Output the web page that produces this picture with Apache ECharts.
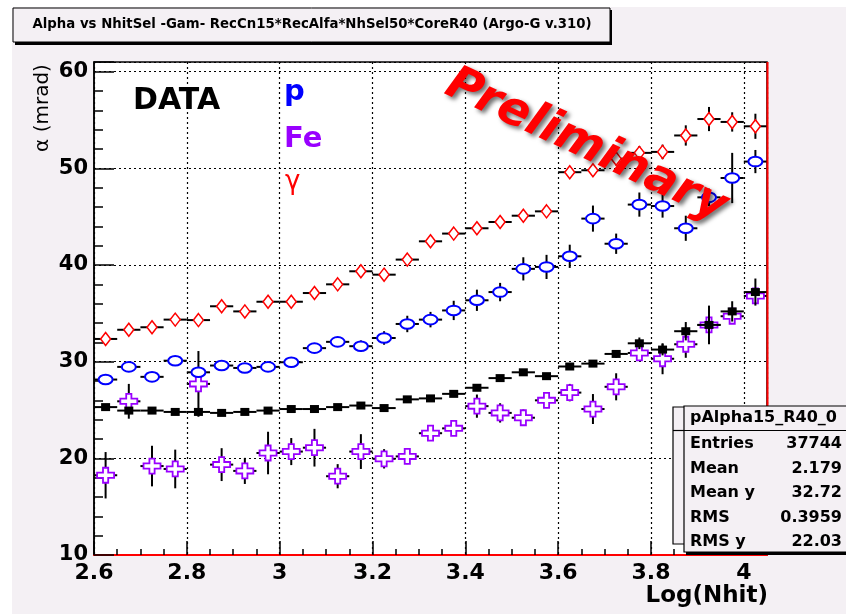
<!DOCTYPE html>
<html><head><meta charset="utf-8">
<script src="https://cdn.jsdelivr.net/npm/echarts@6/dist/echarts.min.js"></script>
<style>html,body{margin:0;padding:0;background:#fff}#c{width:846px;height:614px}</style>
</head><body><div id="c"></div><script>
// bin centres of Log(Nhit)
const xBins = [2.625, 2.675, 2.725, 2.775, 2.825, 2.875, 2.925, 2.975, 3.025, 3.075,
  3.125, 3.175, 3.225, 3.275, 3.325, 3.375, 3.425, 3.475, 3.525, 3.575,
  3.625, 3.675, 3.725, 3.775, 3.825, 3.875, 3.925, 3.975, 4.025];
const binHalfWidth = 0.025;
// gamma (red diamonds)
const gammaVals = [32.35, 33.3, 33.56, 34.35, 34.3, 35.73, 35.2, 36.2, 36.2, 37.1,
  38.0, 39.35, 39.0, 40.56, 42.45, 43.25, 43.8, 44.45, 45.1, 45.55,
  49.6, 49.8, 51.0, 51.6, 51.7, 53.4, 55.1, 54.8, 54.35];
const gammaErr = [0.3, 0.3, 0.3, 0.3, 0.3, 0.3, 0.3, 0.3, 0.3, 0.3,
  0.3, 0.3, 0.3, 0.35, 0.35, 0.35, 0.4, 0.4, 0.4, 0.45,
  0.5, 0.6, 0.7, 0.7, 0.75, 1.05, 1.25, 1.0, 1.3];
// proton (blue circles)
const protonVals = [28.15, 29.46, 28.43, 30.1, 28.9, 29.6, 29.35, 29.46, 29.94, 31.4,
  32.05, 31.6, 32.45, 33.9, 34.35, 35.3, 36.35, 37.2, 39.6, 39.8,
  40.9, 44.8, 42.2, 46.25, 46.1, 43.8, 47.0, 49.0, 50.7];
const protonErr = [0.3, 0.3, 0.3, 0.3, 0.4, 0.3, 0.3, 0.3, 0.3, 0.4,
  0.5, 0.6, 0.7, 0.85, 0.8, 1.0, 1.1, 0.95, 1.2, 1.25,
  1.2, 1.35, 1.05, 1.25, 1.2, 1.3, 0.9, 2.6, 1.2];
// iron (violet crosses)
const ironVals = [18.25, 25.9, 19.2, 18.9, 27.7, 19.35, 18.7, 20.55, 20.7, 21.1,
  18.15, 20.7, 19.95, 20.2, 22.6, 23.1, 25.4, 24.7, 24.2, 26.0,
  26.8, 25.1, 27.4, 30.9, 30.3, 31.8, 33.8, 34.7, 36.8];
const ironErr = [2.4, 1.8, 2.1, 2.0, 3.4, 1.7, 1.35, 2.2, 1.4, 1.95,
  1.25, 1.8, 1.0, 0.8, 0.8, 0.6, 1.2, 1.0, 0.85, 0.8,
  0.9, 1.55, 1.4, 0.6, 1.6, 1.4, 1.0, 0.8, 0.6];
// DATA (black squares)
const dataVals = [25.3, 24.94, 24.94, 24.8, 24.8, 24.7, 24.8, 24.94, 25.1, 25.1,
  25.3, 25.46, 25.2, 26.1, 26.2, 26.67, 27.3, 28.3, 28.9, 28.5,
  29.5, 29.8, 30.8, 31.9, 31.25, 33.15, 33.8, 35.2, 37.2];
const dataErr = [0.2, 0.2, 0.2, 0.2, 0.2, 0.2, 0.2, 0.2, 0.2, 0.2,
  0.2, 0.2, 0.2, 0.2, 0.2, 0.25, 0.25, 0.25, 0.3, 0.3,
  0.3, 0.3, 0.4, 0.6, 0.6, 0.95, 2.0, 1.05, 1.4];
// stats box
const statsTitle = 'pAlpha15_R40_0';
const statsNames = ['Entries', 'Mean', 'Mean y', 'RMS', 'RMS y'];
const statsValues = ['37744', '2.179', '32.72', '0.3959', '22.03'];

const F = 'DejaVu Sans';
const PINK = '#f4f0f4';
const chart = echarts.init(document.getElementById('c'), null, {renderer: 'canvas'});

function mk(vals, errs) { return xBins.map((x, i) => [x, vals[i], errs[i]]); }
function makeSeries(name, vals, errs, markerFn, z) {
  return {
    type: 'custom', name, z, data: mk(vals, errs),
    renderItem(params, api) {
      const x = api.value(0), y = api.value(1), e = api.value(2);
      const c = api.coord([x, y]);
      const l = api.coord([x - binHalfWidth, y]), r = api.coord([x + binHalfWidth, y]);
      const t = api.coord([x, y + e]), b = api.coord([x, y - e]);
      return {type: 'group', children: [
        {type: 'line', shape: {x1: l[0], y1: l[1], x2: r[0], y2: r[1]}, style: {stroke: '#000', lineWidth: 2}},
        {type: 'line', shape: {x1: t[0], y1: t[1], x2: b[0], y2: b[1]}, style: {stroke: '#000', lineWidth: 2}},
        markerFn(c[0], c[1])
      ]};
    }
  };
}
const diamond = (cx, cy) => ({type: 'polygon', shape: {points: [[cx, cy - 6.5], [cx + 5, cy], [cx, cy + 6.5], [cx - 5, cy]]},
  style: {fill: '#fff', stroke: '#ff0000', lineWidth: 1.5}});
const ellipse = (cx, cy) => ({type: 'ellipse', shape: {cx, cy, rx: 7, ry: 4.8},
  style: {fill: '#fff', stroke: '#0000ff', lineWidth: 2}});
const cross = (cx, cy) => {
  const w = 8.5, h = 7.5, a = 2.6;
  return {type: 'polygon', shape: {points: [[cx - a, cy - h], [cx + a, cy - h], [cx + a, cy - a], [cx + w, cy - a], [cx + w, cy + a], [cx + a, cy + a],
    [cx + a, cy + h], [cx - a, cy + h], [cx - a, cy + a], [cx - w, cy + a], [cx - w, cy - a], [cx - a, cy - a]]},
    style: {fill: '#fff', stroke: '#9900ff', lineWidth: 1.8}};
};
const square = (cx, cy) => ({type: 'rect', shape: {x: cx - 4.5, y: cy - 4, width: 9, height: 8}, style: {fill: '#000'}});

const statsEls = [];
statsEls.push({type: 'rect', shape: {x: 673, y: 407, width: 180, height: 137}, style: {fill: PINK, stroke: '#000', lineWidth: 1.2}});
statsEls.push({type: 'line', shape: {x1: 673, y1: 430.5, x2: 684, y2: 430.5}, style: {stroke: '#000', lineWidth: 1.2}});
statsEls.push({type: 'rect', shape: {x: 686, y: 408, width: 170, height: 147}, style: {fill: '#000'}});
statsEls.push({type: 'rect', shape: {x: 684, y: 406, width: 170, height: 146}, style: {fill: PINK, stroke: '#000', lineWidth: 1.2}});
statsEls.push({type: 'line', shape: {x1: 684, y1: 430.5, x2: 846, y2: 430.5}, style: {stroke: '#000', lineWidth: 1.2}});
statsEls.push({type: 'text', x: 690, y: 418, style: {text: statsTitle, font: 'bold 16px "' + F + '"', fill: '#000', textAlign: 'left', textVerticalAlign: 'middle'}});
statsNames.forEach((n, i) => {
  const y = 444 + i * 24.5;
  statsEls.push({type: 'text', x: 690, y, style: {text: n, font: 'bold 16px "' + F + '"', fill: '#000', textAlign: 'left', textVerticalAlign: 'middle'}});
  statsEls.push({type: 'text', x: 842, y, style: {text: statsValues[i], font: 'bold 16px "' + F + '"', fill: '#000', textAlign: 'right', textVerticalAlign: 'middle'}});
});

const option = {
  backgroundColor: PINK,
  animation: false,
  grid: {left: 94, right: 79, top: 62, bottom: 59, show: true, backgroundColor: '#fff', borderColor: '#000', borderWidth: 1.5},
  xAxis: [{
    type: 'value', min: 2.6, max: 4.05, interval: 0.2, position: 'bottom',
    axisLine: {show: true, lineStyle: {color: '#ff0000', width: 2}},
    axisTick: {show: true, inside: true, length: 14, lineStyle: {color: '#000', width: 1.5}},
    axisLabel: {margin: 7, color: '#000', fontFamily: F, fontWeight: 'bold', fontSize: 22,
      formatter: v => Math.abs(v * 5 - Math.round(v * 5)) < 1e-6 ? String(+v.toFixed(1)) : ''},
    splitLine: {show: true, lineStyle: {color: '#000', width: 1.2, type: [2, 3]}}
  }, {
    type: 'value', min: 2.6, max: 4.05, interval: 0.05, position: 'bottom',
    axisLine: {show: false}, axisLabel: {show: false}, splitLine: {show: false},
    axisTick: {show: true, inside: true, length: 6, lineStyle: {color: '#000', width: 1.5}}
  }],
  yAxis: [{
    type: 'value', min: 10, max: 61, interval: 10, position: 'left',
    axisLine: {show: true, lineStyle: {color: '#000', width: 1.5}},
    axisTick: {show: true, inside: true, length: 20, lineStyle: {color: '#000', width: 1.5}},
    axisLabel: {margin: 6, color: '#000', fontFamily: F, fontWeight: 'bold', fontSize: 21,
      formatter: v => (Math.abs(v % 10) < 1e-6 ? String(v) : '')},
    splitLine: {show: true, lineStyle: {color: '#000', width: 1.2, type: [2, 3]}}
  }, {
    type: 'value', min: 10, max: 61, interval: 2, position: 'left',
    axisLine: {show: false}, axisLabel: {show: false}, splitLine: {show: false},
    axisTick: {show: true, inside: true, length: 9, lineStyle: {color: '#000', width: 1.5}}
  }],
  series: [
    makeSeries('Fe', ironVals, ironErr, cross, 2),
    makeSeries('gamma', gammaVals, gammaErr, diamond, 3),
    makeSeries('p', protonVals, protonErr, ellipse, 4),
    makeSeries('DATA', dataVals, dataErr, square, 5)
  ],
  graphic: [
    {type: 'rect', z: 1, shape: {x: 0, y: 0, width: 846, height: 7}, style: {fill: '#fff'}},
    {type: 'rect', z: 1, shape: {x: 0, y: 0, width: 12, height: 614}, style: {fill: '#fff'}},
    {type: 'rect', z: 1, shape: {x: 15, y: 10, width: 597, height: 35}, style: {fill: '#000'}},
    {type: 'rect', z: 1, shape: {x: 13, y: 8, width: 597, height: 34}, style: {fill: PINK, stroke: '#000', lineWidth: 1}},
    {type: 'text', z: 2, x: 312, y: 25, style: {text: 'Alpha vs NhitSel -Gam- RecCn15*RecAlfa*NhSel50*CoreR40 (Argo-G v.310)',
      font: 'bold 13.3px "' + F + '"', fill: '#000', textAlign: 'center', textVerticalAlign: 'middle'}},
    {type: 'line', z: 50, shape: {x1: 767.5, y1: 62, x2: 767.5, y2: 555}, style: {stroke: '#ff0000', lineWidth: 2}},
    {type: 'text', z: 50, x: 43, y: 108, rotation: Math.PI / 2, style: {text: 'α (mrad)', font: '20px "' + F + '"', fill: '#000', textAlign: 'center', textVerticalAlign: 'middle'}},
    {type: 'text', z: 50, x: 768, y: 596, style: {text: 'Log(Nhit)', font: 'bold 23px "' + F + '"', fill: '#000', textAlign: 'right', textVerticalAlign: 'middle'}},
    {type: 'text', z: 50, x: 133, y: 101, style: {text: 'DATA', font: 'bold 30px "' + F + '"', fill: '#000', textAlign: 'left', textVerticalAlign: 'middle'}},
    {type: 'text', z: 50, x: 284, y: 92, style: {text: 'p', font: 'bold 29px "' + F + '"', fill: '#0000ff', textAlign: 'left', textVerticalAlign: 'middle'}},
    {type: 'text', z: 50, x: 284, y: 139, style: {text: 'Fe', font: 'bold 29px "' + F + '"', fill: '#9900ff', textAlign: 'left', textVerticalAlign: 'middle'}},
    {type: 'text', z: 50, x: 285, y: 182, style: {text: 'γ', font: '26px "' + F + '"', fill: '#ff0000', textAlign: 'left', textVerticalAlign: 'middle'}},
    {type: 'text', z: 60, x: 586, y: 146, rotation: -25 * Math.PI / 180, style: {text: 'Preliminary', font: 'italic bold 47px "' + F + '"', fill: '#ff0000',
      textAlign: 'center', textVerticalAlign: 'middle', textShadowColor: 'rgba(0,0,0,0.55)', textShadowBlur: 4, textShadowOffsetX: 3, textShadowOffsetY: 3}},
    {type: 'group', z: 70, children: statsEls.map(e => Object.assign({z: 70}, e))}
  ]
};
chart.setOption(option);
</script></body></html>
